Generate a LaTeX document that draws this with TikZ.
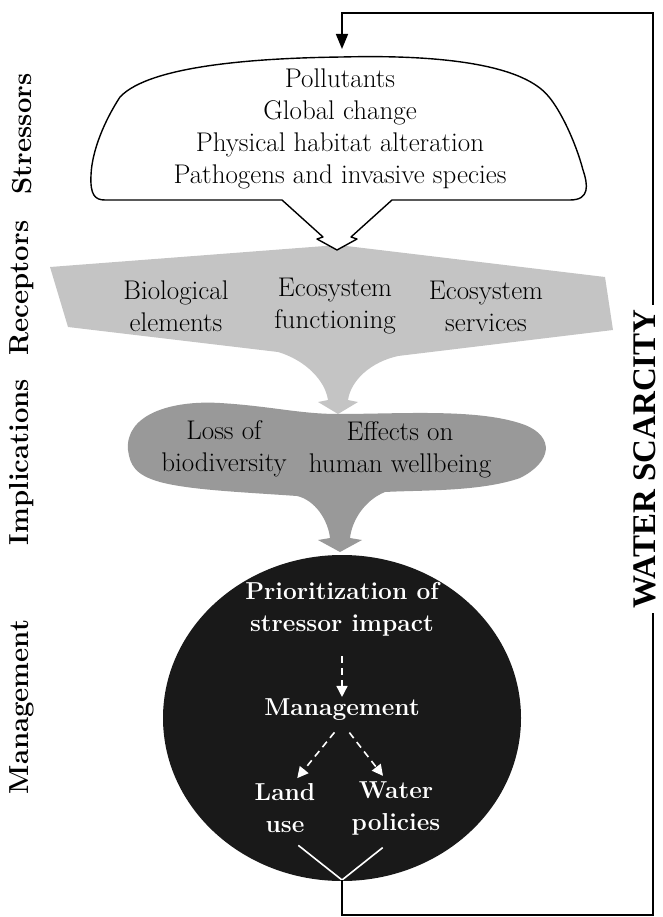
\documentclass[tikz,border=0pt]{standalone}
\usepackage{fontspec}
\newfontfamily\scarcityfont{Liberation Serif}
\usetikzlibrary{arrows.meta,positioning}
\definecolor{recgray}{gray}{0.77}
\definecolor{impgray}{gray}{0.60}
\definecolor{mgmtblack}{gray}{0.10}

\begin{document}
\begin{tikzpicture}[
  x=1pt, y=-1pt,
  rowlabel/.style={rotate=90, inner sep=1pt, font=\fontsize{27.5}{27.5}\selectfont\bfseries},
  entry/.style={align=center, inner sep=2pt, font=\fontsize{27}{32}\selectfont},
  whitebold/.style={align=center, inner sep=2pt, text=white,
    font=\fontsize{24.5}{32}\selectfont\bfseries},
  outline/.style={line width=1.4pt, line join=round},
  feedback/.style={line width=1.6pt, -{Triangle[length=15pt,width=12pt]}},
  dasharrow/.style={white, line width=1.6pt, dash pattern=on 7pt off 5pt,
    -{Triangle[length=11pt,width=11pt]}},
  whiteline/.style={white, line width=1.6pt}
]
\useasboundingbox (0,0) rectangle (662,917);

% receptors
\fill[recgray] (50,267) -- (338,245) -- (605,277) -- (613,330) -- (398,356)
  .. controls (371,362) and (351,380) .. (348,400) -- (358,402) -- (338,414)
  -- (318,402) -- (328,400) .. controls (325,380) and (305,360) .. (278,352)
  -- (68,327) -- cycle;

% implications
\fill[impgray] (128,450) .. controls (125,415) and (170,400) .. (220,403)
  .. controls (270,406) and (300,414) .. (338,414)
  .. controls (400,414) and (480,408) .. (525,425)
  .. controls (555,437) and (552,462) .. (520,478)
  .. controls (480,492) and (420,490) .. (385,492)
  .. controls (365,500) and (352,520) .. (350,538)
  -- (362,540) -- (340,552) -- (318,540) -- (330,538)
  .. controls (328,520) and (315,500) .. (297,496)
  .. controls (240,492) and (190,490) .. (160,482)
  .. controls (135,475) and (130,465) .. (128,450) -- cycle;

% management
\fill[mgmtblack] (342,718) ellipse [x radius=179, y radius=163];

% stressors
\filldraw[outline, fill=white] (105,200) -- (282,200) -- (323,237) -- (317,239)
  -- (337,250) -- (357,239) -- (351,237) -- (392,200) -- (570,200)
  .. controls (590,200) and (588,185) .. (583,170)
  .. controls (575,140) and (560,110) .. (549,97)
  .. controls (520,60) and (420,55) .. (342,57)
  .. controls (260,58) and (150,65) .. (120,97)
  .. controls (105,120) and (92,150) .. (91,175)
  .. controls (90,195) and (95,200) .. (105,200) -- cycle;

\node[rowlabel] (lstress) at (22,134) {Stressors};
\node[rowlabel] (lrecep) at (22,288) {Receptors};
\node[rowlabel] (limpl) at (22,462) {Implications};
\node[rowlabel] (lmgmt) at (22,707) {Management};

\node[entry] (stress) at (340,129) {Pollutants\\Global change\\Physical habitat alteration\\Pathogens and invasive species};
\node[entry] (bio) at (176,306) {Biological\\elements};
\node[entry] (func) at (335,306) {Ecosystem\\functioning};
\node[entry] (serv) at (486,306) {Ecosystem\\services};
\node[entry] (loss) at (224,449) {Loss of\\biodiversity};
\node[entry] (well) at (400,450) {Effects on\\human wellbeing};

\node[whitebold] (prio) at (342,609) {Prioritization of\\stressor impact};
\node[whitebold] (mgmt) at (342,710) {Management};
\node[whitebold] (land) at (285,808) {Land\\use};
\node[whitebold] (water) at (396,808) {Water\\policies};

\draw[dasharrow, shorten <=18pt] (prio) -- (mgmt);
\draw[dasharrow, shorten <=12pt, shorten >=4pt] (mgmt.south) -- (land.70);
\draw[dasharrow, shorten <=12pt, shorten >=4pt] (mgmt.south) -- (water.110);

\coordinate (yj) at (342,880);
\coordinate (cloudtop) at (342,49);
\draw[whiteline, shorten <=17pt, shorten >=17pt] (land.south) -- (yj) -- (water.south);

\draw[feedback] (yj) |- (653,915) -- (653,13) -| (cloudtop);
\node[rotate=90, fill=white, inner sep=4pt, font=\scarcityfont\fontsize{33}{33}\selectfont\bfseries]
  (scarce) at (645,459) {WATER SCARCITY};
\end{tikzpicture}
\end{document}
